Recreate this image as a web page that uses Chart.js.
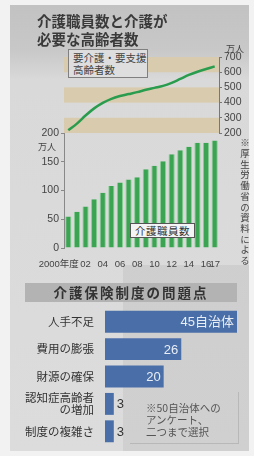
<!DOCTYPE html>
<html lang="ja">
<head>
<meta charset="utf-8">
<script src="https://cdn.jsdelivr.net/npm/chart.js@4.4.1/dist/chart.umd.min.js"></script>
<style>
  body { margin: 0; background: #f2f2f2; }
  #wrap { position: relative; width: 254px; height: 456px; overflow: hidden; background: #f2f2f2;
          font-family: 'Noto Sans CJK JP', sans-serif; color: #333; }
  #panel { position: absolute; left: 10px; top: 5px; width: 239px; height: 446px;
           background: linear-gradient(to bottom, #c2c2c2 0px, #c8c8c8 45px, #d9d9d9 75px, #dcdcdc 100%); }
  #shade { position: absolute; left: 123px; top: 265px; width: 126px; height: 186px; background: rgba(0,0,0,0.05); }
  canvas { position: absolute; left: 0; top: 0; }
  .t { position: absolute; white-space: nowrap; }
  #title { left: 37px; top: 12px; font-size: 14.5px; font-weight: bold; line-height: 18px; color: #3a3a3a; }
  #lineKey { left: 68px; top: 49px; width: 80px; height: 29px; border: 1px solid #808080; background: #dedede;
             font-size: 10.5px; line-height: 12px; padding: 2px 0 0 4px; box-sizing: border-box; color: #444; }
  #barKey { left: 130px; top: 223px; width: 65px; height: 15px; border: 1px solid #555; background: #f4f4f4;
            font-size: 10.5px; line-height: 13px; text-align: center; box-sizing: border-box; color: #333; letter-spacing: 0.5px; }
  #unitL { left: 38px; top: 140px; font-size: 9px; color: #444; }
  #unitR { left: 226px; top: 42px; font-size: 9px; color: #444; }
  #source { left: 238px; top: 138px; writing-mode: vertical-rl; font-size: 9.5px; letter-spacing: 1.2px; color: #444; }
  #sect { left: 25px; top: 283px; width: 212px; height: 19px; background: #b3b3b3; font-size: 13.5px; font-weight: bold;
          text-align: center; line-height: 19px; letter-spacing: 2px; color: #333; }
  #noteBox { left: 130px; top: 392px; width: 108px; height: 51px; border: 1px solid #b8b8b8; border-left: none; border-top: none; }
  #note { left: 146px; top: 402px; font-size: 10.5px; line-height: 12px; color: #555; }
</style>
</head>
<body>
<div id="wrap">
  <div id="panel"></div>
  <div id="shade"></div>
  <canvas id="lineChart" width="254" height="456"></canvas>
  <canvas id="barChart" width="254" height="456"></canvas>
  <canvas id="problemChart" width="254" height="456"></canvas>
  <div class="t" id="title">介護職員数と介護が<br>必要な高齢者数</div>
  <div class="t" id="lineKey">要介護・要支援<br>高齢者数</div>
  <div class="t" id="barKey">介護職員数</div>
  <div class="t" id="unitL">万人</div>
  <div class="t" id="unitR">万人</div>
  <div class="t" id="source">※厚生労働省の資料による</div>
  <div class="t" id="sect">介護保険制度の問題点</div>
  <div class="t" id="noteBox"></div>
  <div class="t" id="note">※50自治体への<br>アンケート、<br>二つまで選択</div>
</div>
<script>
// years (fiscal) shown on the x axis
const years = ['2000年度', '01', '02', '03', '04', '05', '06', '07', '08', '09',
               '10', '11', '12', '13', '14', '15', '16', '17'];
const shownYears = ['2000年度', '02', '04', '06', '08', '10', '12', '14', '16', '17'];

// 要介護・要支援高齢者数 (万人)
const elderly = [218, 262, 315, 362, 398, 425, 443, 456, 469, 484, 497, 510, 530, 556, 582, 603, 621, 638];
// 介護職員数 (万人)
const workers = [55, 63, 72, 85, 96, 108, 114, 119, 123, 137, 143, 151, 163, 170, 176, 183, 183, 187];

const elderlyTicks = [200, 300, 400, 500, 600, 700];
const workerTicks = [0, 50, 100, 150, 200];
const bands = [[600, 700], [400, 500], [200, 300]];

// 介護保険制度の問題点 (自治体数)
const problems = ['人手不足', '費用の膨張', '財源の確保', ['認知症高齢者', 'の増加'], '制度の複雑さ'];
const problemCounts = [45, 26, 20, 3, 3];
const countUnit = '自治体';

const numFont = "'Liberation Sans', 'Noto Sans CJK JP', sans-serif";
Chart.defaults.font.family = numFont;
Chart.defaults.color = '#444';

// tan stripes behind the line
const bandPlugin = {
  id: 'bands',
  beforeDatasetsDraw(chart) {
    const { ctx, chartArea, scales } = chart;
    ctx.save();
    ctx.fillStyle = '#d9cbad';
    bands.forEach(([lo, hi]) => {
      const y1 = scales.y.getPixelForValue(hi);
      const y2 = scales.y.getPixelForValue(lo);
      ctx.fillRect(chartArea.left, y1, chartArea.right - chartArea.left, y2 - y1);
    });
    ctx.restore();
  }
};

new Chart(document.getElementById('lineChart'), {
  type: 'line',
  data: {
    labels: years,
    datasets: [{
      data: elderly,
      borderColor: '#2a9c4e',
      borderWidth: 2.5,
      pointRadius: 0,
      tension: 0.35
    }]
  },
  options: {
    responsive: false,
    animation: false,
    devicePixelRatio: 1,
    layout: { padding: { top: 57, bottom: 323, left: 64, right: 0 } },
    plugins: { legend: { display: false }, tooltip: { enabled: false } },
    scales: {
      x: { type: 'category', offset: true, display: false },
      y: {
        position: 'right',
        min: 200, max: 700,
        afterBuildTicks: s => { s.ticks = elderlyTicks.map(v => ({ value: v })); },
        afterFit: s => { s.width = 35; },
        border: { color: '#777' },
        grid: { drawOnChartArea: false, tickLength: 3, color: '#777' },
        ticks: { autoSkip: false, padding: 2, font: { size: 10.5 }, color: '#444' }
      }
    }
  },
  plugins: [bandPlugin]
});

new Chart(document.getElementById('barChart'), {
  type: 'bar',
  data: {
    labels: years,
    datasets: [{
      data: workers,
      backgroundColor: '#3ba452',
      borderColor: '#86cf93',
      borderWidth: { left: 1, right: 1, top: 0, bottom: 0 },
      barPercentage: 0.72,
      categoryPercentage: 1
    }]
  },
  options: {
    responsive: false,
    animation: false,
    devicePixelRatio: 1,
    layout: { padding: { top: 133, bottom: 188, left: 0, right: 35 } },
    plugins: { legend: { display: false }, tooltip: { enabled: false } },
    scales: {
      x: {
        afterFit: s => { s.height = 20; },
        border: { display: false },
        grid: { display: false },
        ticks: {
          autoSkip: false, maxRotation: 0, padding: 3,
          font: { size: 9.5 }, color: '#444',
          callback: (v, i) => {
            const l = years[i];
            if (!shownYears.includes(l)) return '';
            return i === 0 ? l + '\u3000\u3000' : l;
          }
        }
      },
      y: {
        min: 0, max: 200,
        afterBuildTicks: s => { s.ticks = workerTicks.map(v => ({ value: v })); },
        afterFit: s => { s.width = 64; },
        border: { color: '#888' },
        grid: { drawOnChartArea: false, tickLength: 3, color: '#888' },
        ticks: { autoSkip: false, padding: 2, font: { size: 10.5 }, color: '#444' }
      }
    }
  }
});

// numbers on the horizontal bars
const valueLabels = {
  id: 'valueLabels',
  afterDatasetsDraw(chart) {
    const ctx = chart.ctx;
    chart.getDatasetMeta(0).data.forEach((bar, i) => {
      const v = problemCounts[i];
      const text = i === 0 ? v + countUnit : String(v);
      ctx.save();
      ctx.font = '13px ' + numFont;
      ctx.textBaseline = 'middle';
      if (v >= 10) {
        ctx.fillStyle = '#e9eef6';
        ctx.textAlign = 'right';
        ctx.fillText(text, bar.x - 3, bar.y + 1);
      } else {
        ctx.fillStyle = '#333';
        ctx.textAlign = 'left';
        ctx.fillText(text, bar.x + 3, bar.y + 1);
      }
      ctx.restore();
    });
  }
};

new Chart(document.getElementById('problemChart'), {
  type: 'bar',
  data: {
    labels: problems,
    datasets: [{
      data: problemCounts,
      backgroundColor: '#4a6fa8',
      barPercentage: 0.8,
      categoryPercentage: 1
    }]
  },
  options: {
    indexAxis: 'y',
    responsive: false,
    animation: false,
    devicePixelRatio: 1,
    layout: { padding: { top: 308, bottom: 11, left: 0, right: 17 } },
    plugins: { legend: { display: false }, tooltip: { enabled: false } },
    scales: {
      x: { min: 0, max: 45, display: false },
      y: {
        afterFit: s => { s.width = 105; },
        border: { display: false },
        grid: { display: false },
        ticks: { padding: 3, font: { size: 11.5, family: "'Noto Sans CJK JP', sans-serif", lineHeight: 1.05 }, color: '#333' }
      }
    }
  },
  plugins: [valueLabels]
});
</script>
</body>
</html>
